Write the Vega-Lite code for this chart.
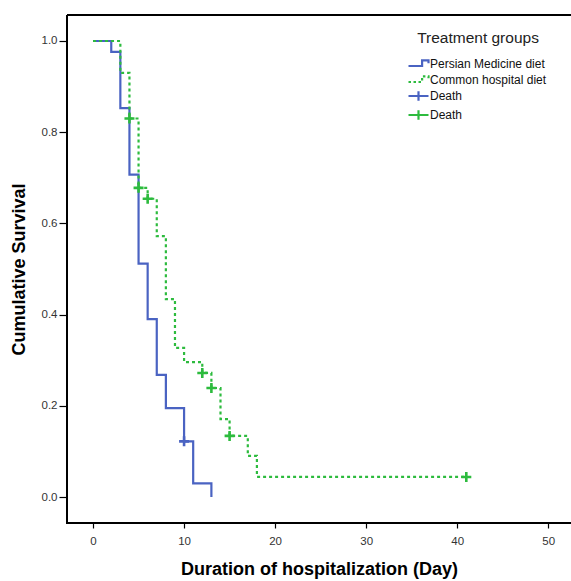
{
  "$schema": "https://vega.github.io/schema/vega-lite/v6.json",
  "width": 504,
  "height": 508,
  "autosize": {"type": "none"},
  "padding": {"left": 67, "top": 15, "right": 0, "bottom": 58},
  "background": "white",
  "config": {
    "view": {"stroke": "#000000", "strokeWidth": 2, "strokeDash": [504, 508, 1012, 0]},
    "font": "Liberation Sans",
    "axis": {"domain": false, "grid": false, "tickColor": "#000000", "tickWidth": 1.2, "labelColor": "#333333", "labelFont": "Liberation Sans", "labelFontSize": 11.5, "titleFont": "Liberation Sans", "titleFontSize": 18, "titleFontWeight": "bold", "titleColor": "#000000"}
  },
  "datasets": {
    "curves": [
      {"key": "Persian Medicine diet", "t": 0, "s": 1.0},
      {"key": "Persian Medicine diet", "t": 2, "s": 0.976},
      {"key": "Persian Medicine diet", "t": 3, "s": 0.853},
      {"key": "Persian Medicine diet", "t": 4, "s": 0.707},
      {"key": "Persian Medicine diet", "t": 5, "s": 0.512},
      {"key": "Persian Medicine diet", "t": 6, "s": 0.39},
      {"key": "Persian Medicine diet", "t": 7, "s": 0.268},
      {"key": "Persian Medicine diet", "t": 8, "s": 0.195},
      {"key": "Persian Medicine diet", "t": 10, "s": 0.122},
      {"key": "Persian Medicine diet", "t": 11, "s": 0.03},
      {"key": "Persian Medicine diet", "t": 13, "s": 0.0},
      {"key": "Common hospital diet", "t": 0, "s": 1.0},
      {"key": "Common hospital diet", "t": 3, "s": 0.93},
      {"key": "Common hospital diet", "t": 4, "s": 0.83},
      {"key": "Common hospital diet", "t": 5, "s": 0.678},
      {"key": "Common hospital diet", "t": 6, "s": 0.654},
      {"key": "Common hospital diet", "t": 7, "s": 0.572},
      {"key": "Common hospital diet", "t": 8, "s": 0.434},
      {"key": "Common hospital diet", "t": 9, "s": 0.327},
      {"key": "Common hospital diet", "t": 10, "s": 0.296},
      {"key": "Common hospital diet", "t": 12, "s": 0.272},
      {"key": "Common hospital diet", "t": 13, "s": 0.239},
      {"key": "Common hospital diet", "t": 14, "s": 0.171},
      {"key": "Common hospital diet", "t": 15, "s": 0.134},
      {"key": "Common hospital diet", "t": 17, "s": 0.09},
      {"key": "Common hospital diet", "t": 18, "s": 0.044},
      {"key": "Common hospital diet", "t": 41, "s": 0.044}
    ],
    "censored": [
      {"key": "Death (Persian Medicine diet)", "t": 10, "s": 0.122},
      {"key": "Death (Common hospital diet)", "t": 4, "s": 0.83},
      {"key": "Death (Common hospital diet)", "t": 5, "s": 0.678},
      {"key": "Death (Common hospital diet)", "t": 6, "s": 0.654},
      {"key": "Death (Common hospital diet)", "t": 12, "s": 0.272},
      {"key": "Death (Common hospital diet)", "t": 13, "s": 0.239},
      {"key": "Death (Common hospital diet)", "t": 15, "s": 0.134},
      {"key": "Death (Common hospital diet)", "t": 41, "s": 0.044}
    ]
  },
  "encoding": {
    "x": {"field": "t", "type": "quantitative", "scale": {"domain": [-2.86, 52.5], "nice": false, "zero": false},
      "axis": {"values": [0, 10, 20, 30, 40, 50], "tickSize": 5, "labelPadding": 7, "title": "Duration of hospitalization (Day)", "titlePadding": 14}},
    "y": {"field": "s", "type": "quantitative", "scale": {"domain": [-0.057, 1.057], "nice": false, "zero": false},
      "axis": {"values": [0, 0.2, 0.4, 0.6, 0.8, 1.0], "format": ".1f", "tickSize": 8, "labelPadding": 2, "title": "Cumulative Survival", "titlePadding": 13}},
    "color": {"field": "key", "type": "nominal",
      "scale": {"domain": ["Persian Medicine diet", "Common hospital diet", "Death (Persian Medicine diet)", "Death (Common hospital diet)"],
        "range": ["#4a63c2", "#2dbb3e", "#4a63c2", "#2dbb3e"]},
      "legend": {
        "title": "Treatment groups", "orient": "none", "legendX": 342, "legendY": 16,
        "titleFont": "Liberation Sans", "titleFontSize": 15.5, "titleFontWeight": "normal", "titleColor": "#222222", "titleAnchor": "middle", "titlePadding": 8,
        "labelFont": "Liberation Sans", "labelFontSize": 12, "labelColor": "#111111", "labelOffset": 2,
        "symbolSize": 256, "symbolStrokeWidth": 2.2, "rowPadding": -1, "padding": 0,
        "labelExpr": "indexof(datum.label, 'Death') === 0 ? 'Death' : datum.label",
        "encode": {"symbols": {"update": {
          "shape": {"signal": "indexof(datum.value, 'Death') === 0 ? 'M-1.25,0H1.25M0,-0.6V0.6' : 'M-1.25,0.25H0.45V-0.45H1.25V-0.1'"},
          "strokeDash": {"signal": "datum.value === 'Common hospital diet' ? [2.5, 2.5] : [1, 0]"},
          "fill": {"value": "transparent"}
        }}}
      }}
  },
  "layer": [
    {
      "data": {"name": "curves"},
      "mark": {"type": "line", "interpolate": "step-after", "strokeWidth": 2.2, "strokeCap": "butt"},
      "encoding": {
        "strokeDash": {"field": "key", "type": "nominal", "scale": {"domain": ["Persian Medicine diet", "Common hospital diet"], "range": [[1, 0], [3, 3]]}, "legend": null}
      }
    },
    {
      "data": {"name": "censored"},
      "mark": {"type": "point", "filled": false, "shape": "M-1,0H1M0,-1V1", "size": 100, "strokeWidth": 2.6, "opacity": 1}
    }
  ]
}
